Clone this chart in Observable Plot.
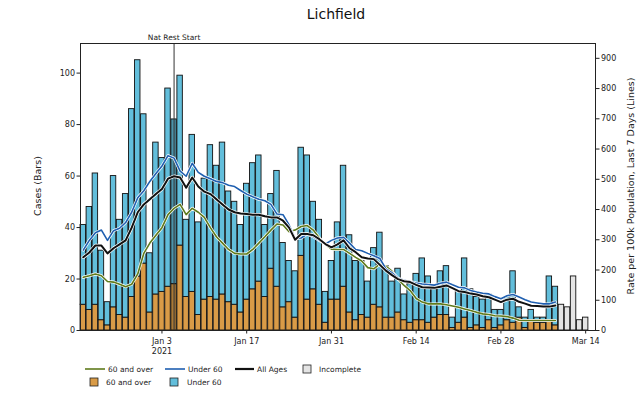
<!DOCTYPE html>
<html><head><meta charset="utf-8">
<script src="https://cdn.jsdelivr.net/npm/d3@7"></script>
<script src="https://cdn.jsdelivr.net/npm/@observablehq/plot@0.6"></script>
<style>body{margin:0;background:#fff} svg{display:block}</style>
</head><body><div id="chart"></div>
<script>
// ---- data ----
const firstDate = "2020-12-21";
const over60Cases = [10,8,10,4,2,9,6,5,13,21,26,7,14,15,17,18,33,13,15,6,12,13,12,14,11,10,7,12,16,19,13,24,17,9,11,5,29,12,16,10,3,12,12,17,7,4,6,5,10,9,5,5,7,4,3,4,4,3,5,6,6,1,3,5,1,2,1,4,1,2,4,3,5,1,4,3,3,4,2];
const under60Cases = [31,40,51,27,9,51,37,48,73,84,58,23,59,52,77,64,66,30,61,36,47,59,52,59,43,40,34,45,49,49,28,29,45,25,16,18,42,56,34,33,12,15,30,47,30,23,21,14,22,29,20,14,17,10,15,18,24,18,11,17,19,4,12,23,15,11,11,10,7,6,9,20,4,4,4,2,2,17,15];
const incompleteCases = [10,9,21,4,5];
const rate60Over = [176,181,187,181,162,160,153,145,153,187,255,289,315,340,383,404,417,383,404,391,374,340,310,289,268,255,253,253,268,289,310,332,352,349,327,332,344,347,332,306,285,269,268,268,255,242,230,208,204,220,213,196,170,149,132,106,94,88,88,88,85,81,77,71,66,60,55,53,49,48,46,41,34,33,33,33,33,33,33];
const rateUnder60 = [266,298,323,332,298,330,338,357,391,439,462,493,519,544,578,570,527,510,553,523,510,502,493,489,480,476,463,451,442,434,429,417,385,383,349,304,306,319,310,298,286,298,306,308,289,268,264,255,247,238,204,191,173,166,162,157,154,152,150,156,160,151,143,141,132,127,123,121,112,105,115,119,111,102,94,91,88,88,94];
const rateAllAges = [242,258,281,281,255,272,285,298,340,391,417,434,451,468,502,510,506,472,506,476,459,451,434,417,400,391,387,385,383,383,378,374,374,363,340,300,319,319,315,302,286,275,285,298,272,259,242,238,236,217,198,183,170,163,160,151,143,142,141,145,149,140,130,127,122,119,113,110,102,94,102,105,95,89,82,81,79,79,83];
const xTickDates = ["2021-01-03","2021-01-17","2021-01-31","2021-02-14","2021-02-28","2021-03-14"];
const xTickLabels = ["Jan 3\n2021","Jan 17","Jan 31","Feb 14","Feb 28","Mar 14"];
const leftTicks = [0,20,40,60,80,100];
const rightTicks = [0,100,200,300,400,500,600,700,800,900];
const natRestDate = "2021-01-05";
const natRestLabel = "Nat Rest Start";
const titleText = "Lichfield";
const leftLabel = "Cases (Bars)";
const rightLabel = "Rate per 100k Population, Last 7 Days (Lines)";
const legendLineLabels = ["60 and over", "Under 60", "All Ages"];
const legendBoxLabels = ["Incomplete", "60 and over", "Under 60"];

// ---- styling ----
const cOver = "#d99b47", cUnder = "#62bedb", cInc = "#e4e4e4";
const cLineOver = "#5f7a1c", cLineUnder = "#1f5fb0", cLineAll = "#111";
const leftMax = 111.5, rightMax = 949, k = rightMax / leftMax;
const day = 864e5;
const t0 = Date.parse(firstDate + "T00:00:00Z");
const dateAt = i => new Date(t0 + i * day);

const bars = over60Cases.map((o, i) => ({date: dateAt(i), over: o, under: under60Cases[i]}));
const incBars = incompleteCases.map((v, j) => ({date: dateAt(over60Cases.length + j), v}));
const lines = [
  {name: legendLineLabels[0], rates: rate60Over, color: cLineOver, w: 1.6},
  {name: legendLineLabels[1], rates: rateUnder60, color: cLineUnder, w: 1.6},
  {name: legendLineLabels[2], rates: rateAllAges, color: cLineAll, w: 2}
].map(s => ({...s, pts: s.rates.map((r, i) => ({date: dateAt(i), rate: r}))}));
const natDate = new Date(natRestDate + "T00:00:00Z");
const tickMap = new Map(xTickDates.map((d, i) => [Date.parse(d + "T00:00:00Z"), xTickLabels[i]]));
const half = 0.45 * day;
const bx1 = d => new Date(+d.date - half), bx2 = d => new Date(+d.date + half);

const marks = [
  Plot.rectY(bars, {x1: bx1, x2: bx2, y1: 0, y2: "over", fill: cOver, stroke: "#111", strokeWidth: 0.9}),
  Plot.rectY(bars, {x1: bx1, x2: bx2, y1: "over", y2: d => d.over + d.under, fill: cUnder, stroke: "#111", strokeWidth: 0.9}),
  Plot.rectY(bars.filter(d => +d.date === +natDate), {x1: bx1, x2: bx2, y1: 0, y2: d => d.over + d.under, fill: "#000", fillOpacity: 0.22}),
  Plot.rectY(incBars, {x1: bx1, x2: bx2, y1: 0, y2: "v", fill: cInc, stroke: "#111", strokeWidth: 0.9}),
  Plot.ruleX([natDate], {stroke: "#333", strokeWidth: 1}),
];
for (const s of lines) {
  marks.push(Plot.line(s.pts, {x: "date", y: d => d.rate / k, stroke: "white", strokeWidth: s.w + 1.4}));
  marks.push(Plot.line(s.pts, {x: "date", y: d => d.rate / k, stroke: s.color, strokeWidth: s.w}));
}
marks.push(
  Plot.frame({stroke: "#222", strokeWidth: 1}),
  Plot.axisY(leftTicks, {anchor: "left", tickSize: 3.5, tickPadding: 2, label: null, fontSize: 8}),
  Plot.axisY(rightTicks.map(v => v / k), {anchor: "right", tickSize: 3.5, tickPadding: 2, label: null, tickFormat: v => String(Math.round(v * k)), fontSize: 8}),
  Plot.axisX(xTickDates.map(d => new Date(d + "T00:00:00Z")), {anchor: "bottom", tickSize: 3.5, tickPadding: 3, label: null, tickFormat: d => tickMap.get(+d), fontSize: 8, lineHeight: 1.25}),
  Plot.text([natRestLabel], {x: natDate, frameAnchor: "top", dy: -9, text: d => d, fontSize: 7.5})
);

const chart = Plot.plot({
  width: 641, height: 393,
  marginLeft: 80, marginRight: 46, marginTop: 43, marginBottom: 63,
  style: {fontFamily: "DejaVu Sans, sans-serif", fontSize: "8px", color: "#222", background: "#fff"},
  x: {type: "utc", domain: [new Date(Date.parse("2020-12-20T13:00:00Z")), new Date(Date.parse("2021-03-15T15:00:00Z"))], axis: null},
  y: {domain: [0, leftMax], axis: null},
  marks
});
document.getElementById("chart").appendChild(chart);

// ---- title, axis labels, legend ----
const svg = d3.select(chart);
const font = "DejaVu Sans, sans-serif";
svg.append("text").attr("x", 336).attr("y", 19).attr("text-anchor", "middle").attr("font-size", 14).attr("font-family", font).attr("fill", "#111").text(titleText);
svg.append("text").attr("transform", "translate(41,186) rotate(-90)").attr("text-anchor", "middle").attr("font-size", 9.5).attr("font-family", font).attr("fill", "#222").text(leftLabel);
svg.append("text").attr("transform", "translate(634,186) rotate(-90)").attr("text-anchor", "middle").attr("font-size", 9.5).attr("font-family", font).attr("fill", "#222").text(rightLabel);

const lg = svg.append("g").attr("font-family", font).attr("font-size", 7.5).attr("fill", "#222").attr("text-anchor", "start");
const lineItems = [
  {x: 85, w: 20, color: cLineOver, sw: 1.6, label: legendLineLabels[0]},
  {x: 165, w: 20, color: cLineUnder, sw: 1.6, label: legendLineLabels[1]},
  {x: 235, w: 19, color: cLineAll, sw: 2.2, label: legendLineLabels[2]}
];
for (const it of lineItems) {
  lg.append("line").attr("x1", it.x).attr("x2", it.x + it.w).attr("y1", 369).attr("y2", 369).attr("stroke", it.color).attr("stroke-width", it.sw);
  lg.append("text").attr("x", it.x + it.w + 3).attr("y", 371.5).attr("text-anchor", "start").text(it.label);
}
const boxItems = [
  {x: 303, y: 365, color: cInc, label: legendBoxLabels[0], tx: 319, ty: 371.5},
  {x: 90, y: 378, color: cOver, label: legendBoxLabels[1], tx: 106, ty: 384.5},
  {x: 170, y: 378, color: cUnder, label: legendBoxLabels[2], tx: 187, ty: 384.5}
];
for (const it of boxItems) {
  lg.append("rect").attr("x", it.x).attr("y", it.y).attr("width", 8).attr("height", 8).attr("fill", it.color).attr("stroke", "#222").attr("stroke-width", 0.8);
  lg.append("text").attr("x", it.tx).attr("y", it.ty).attr("text-anchor", "start").text(it.label);
}
</script>
</body></html>
